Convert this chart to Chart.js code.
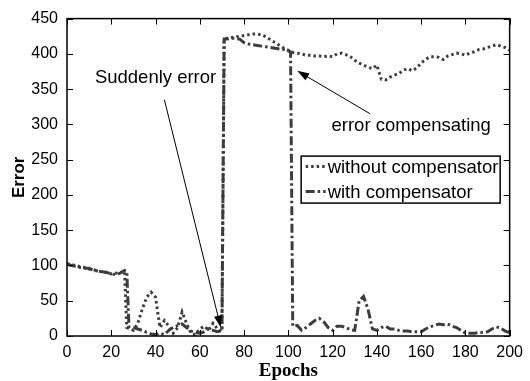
<!DOCTYPE html>
<html>
<head>
<meta charset="utf-8">
<script src="https://cdn.jsdelivr.net/npm/chart.js@4.4.0/dist/chart.umd.min.js"></script>
<style>
  body { margin: 0; background: #fff; }
</style>
</head>
<body>
<canvas id="errChart" width="530" height="381"></canvas>
<script>
// data
const epochs = [0, 2, 4, 6, 8, 10, 12, 14, 16, 18, 20, 22, 24, 26,
    27,
    28, 30, 32, 34, 36, 38, 40, 42, 44, 46, 48, 50, 52, 54, 56, 58, 60, 62, 64, 66, 68, 70,
    71,
    72, 74, 76, 78, 80, 82, 84, 86, 88, 90, 92, 94, 96, 98, 100,
    101,
    102, 104, 106, 108, 110, 112, 114, 116, 118, 120, 122, 124, 126, 128, 130, 132, 134, 136, 138, 140,
    142, 144, 146, 148, 150, 152, 154, 156, 158, 160, 162, 164, 166, 168, 170, 172, 174, 176, 178, 180,
    182, 184, 186, 188, 190, 192, 194, 196, 198, 200];

const withoutComp = [103, 101, 100, 98, 97, 95, 94, 92, 91, 90, 88, 89, 90, 92,
    12,
    11, 8, 18, 38, 55, 62, 55, 12, 22, 14, 4, 12, 34, 18, 4, 2, 10, 14, 8, 18, 10, 6,
    420,
    422, 423, 424, 425, 426, 427, 428, 428, 427, 424, 420, 416, 412, 408, 405,
    403,
    402, 401, 400, 398, 398, 397, 397, 396, 397, 396, 400, 401, 399, 396, 391, 387, 384, 381, 379, 384,
    364, 363, 367, 370, 372, 377, 379, 376, 380, 387, 392, 396, 396, 395, 392, 397, 399, 401, 400, 398,
    401, 403, 406, 407, 409, 411, 413, 411, 409, 405];

const withComp = [102, 100, 99, 97, 96, 96, 93, 92, 91, 90, 88, 87, 89, 93,
    92,
    13, 12, 10, 8, 5, 3, 2, 4, 2, 8, 12, 15, 17, 12, 7, 5, 4, 6, 10, 8, 6, 8,
    421,
    421, 422, 422, 421, 416, 414, 413, 412, 411, 410, 409, 408, 407, 406, 404,
    403,
    14, 15, 8, 12, 17, 22, 25, 20, 12, 8, 14, 14, 12, 9, 8, 50, 56, 38, 10, 8,
    12, 14, 10, 10, 8, 7, 7, 6, 6, 6, 10, 13, 15, 17, 16, 17, 14, 12, 8, 4,
    4, 4, 5, 5, 6, 10, 13, 11, 7, 5];

const seriesNames = ['without compensator', 'with compensator'];
const xTicks = { min: 0, max: 200, step: 20 };
const yTicks = { min: 0, max: 450, step: 50 };

const lineColor = '#3d3d3d';
const sans = "'Liberation Sans', Arial, sans-serif";

Chart.defaults.font.family = sans;
Chart.defaults.font.size = 16;
Chart.defaults.color = '#000';

function toPoints(ys) {
    return epochs.map((e, i) => ({ x: e, y: ys[i] }));
}

// box, inward ticks on all four sides
const framePlugin = {
    id: 'frame',
    afterDraw(chart) {
        const ctx = chart.ctx;
        const a = chart.chartArea;
        const xs = chart.scales.x, ys = chart.scales.y;
        const tl = 6;
        ctx.save();
        ctx.strokeStyle = '#000';
        ctx.lineWidth = 1;
        ctx.beginPath();
        xs.ticks.forEach(t => {
            const px = Math.round(xs.getPixelForValue(t.value)) + 0.5;
            ctx.moveTo(px, a.bottom); ctx.lineTo(px, a.bottom - tl);
            ctx.moveTo(px, a.top); ctx.lineTo(px, a.top + tl);
        });
        ys.ticks.forEach(t => {
            const py = Math.round(ys.getPixelForValue(t.value)) + 0.5;
            ctx.moveTo(a.left, py); ctx.lineTo(a.left + tl, py);
            ctx.moveTo(a.right, py); ctx.lineTo(a.right - tl, py);
        });
        ctx.stroke();
        ctx.lineWidth = 1.5;
        ctx.strokeRect(a.left, a.top, a.right - a.left, a.bottom - a.top);
        ctx.restore();
    }
};

function arrow(ctx, x1, y1, x2, y2) {
    const ang = Math.atan2(y2 - y1, x2 - x1);
    const len = 12, half = 4;
    ctx.beginPath();
    ctx.moveTo(x1, y1);
    ctx.lineTo(x2 - Math.cos(ang) * len * 0.8, y2 - Math.sin(ang) * len * 0.8);
    ctx.stroke();
    ctx.beginPath();
    ctx.moveTo(x2, y2);
    ctx.lineTo(x2 - Math.cos(ang) * len - Math.sin(ang) * half, y2 - Math.sin(ang) * len + Math.cos(ang) * half);
    ctx.lineTo(x2 - Math.cos(ang) * len + Math.sin(ang) * half, y2 - Math.sin(ang) * len - Math.cos(ang) * half);
    ctx.closePath();
    ctx.fill();
}

// text notes + arrows, placed in data coordinates
const notesPlugin = {
    id: 'notes',
    afterDatasetsDraw(chart) {
        const ctx = chart.ctx;
        const xs = chart.scales.x, ys = chart.scales.y;
        const X = v => xs.getPixelForValue(v), Y = v => ys.getPixelForValue(v);
        ctx.save();
        ctx.fillStyle = '#000';
        ctx.strokeStyle = '#000';
        ctx.lineWidth = 1;
        ctx.font = '18.5px ' + sans;
        ctx.textBaseline = 'alphabetic';
        ctx.textAlign = 'left';
        ctx.fillText('Suddenly error', X(12.6), Y(359));
        ctx.fillText('error compensating', X(119.5), Y(290.5));
        arrow(ctx, X(44), Y(335), X(69.5), Y(12));
        arrow(ctx, X(137), Y(315), X(104), Y(376));
        ctx.restore();
    }
};

// boxed legend like the original figure
const boxLegendPlugin = {
    id: 'boxLegend',
    afterDraw(chart) {
        const ctx = chart.ctx;
        const a = chart.chartArea;
        const left = a.right - 209, top = a.top + 137, w = 199, h = 47;
        ctx.save();
        ctx.fillStyle = '#fff';
        ctx.fillRect(left, top, w, h);
        chart.data.datasets.forEach((ds, i) => {
            const cy = top + 11 + i * 25;
            ctx.strokeStyle = ds.borderColor;
            ctx.lineWidth = ds.borderWidth;
            ctx.setLineDash(ds.borderDash);
            ctx.beginPath();
            ctx.moveTo(left + 5, cy);
            ctx.lineTo(left + 25, cy);
            ctx.stroke();
            ctx.setLineDash([]);
            ctx.fillStyle = '#000';
            ctx.font = '18.5px ' + sans;
            ctx.textBaseline = 'middle';
            ctx.fillText(ds.label, left + 27, cy + 1);
        });
        ctx.strokeStyle = '#000';
        ctx.lineWidth = 1.5;
        ctx.strokeRect(left + 0.5, top + 0.5, w, h);
        ctx.restore();
    }
};

const data = {
    datasets: [{
        label: seriesNames[0],
        data: toPoints(withoutComp),
        borderColor: lineColor,
        borderWidth: 3,
        borderDash: [2.5, 3],
        pointRadius: 0,
        tension: 0,
        fill: false
    }, {
        label: seriesNames[1],
        data: toPoints(withComp),
        borderColor: lineColor,
        borderWidth: 3,
        borderDash: [9, 3, 2.5, 3],
        pointRadius: 0,
        tension: 0,
        fill: false
    }]
};

const options = {
    responsive: false,
    animation: false,
    layout: { padding: { top: 18, right: 18, left: 0, bottom: 0 } },
    plugins: {
        legend: { display: false },
        tooltip: { enabled: false }
    },
    scales: {
        x: {
            type: 'linear',
            min: xTicks.min,
            max: xTicks.max,
            grid: { display: false, drawTicks: false },
            border: { display: false },
            ticks: { stepSize: xTicks.step, padding: 7, maxRotation: 0 },
            title: {
                display: true,
                text: 'Epochs',
                font: { family: "'Liberation Serif', 'Times New Roman', serif", size: 19, weight: 'bold' },
                padding: { top: 0, bottom: -1 }
            },
            afterFit(scale) { scale.height = 45; }
        },
        y: {
            min: yTicks.min,
            max: yTicks.max,
            grid: { display: false, drawTicks: false },
            border: { display: false },
            ticks: { stepSize: yTicks.step, padding: 9 },
            title: {
                display: true,
                text: 'Error',
                font: { family: sans, size: 17, weight: 'bold' },
                padding: { top: 9, bottom: 0 }
            },
            afterFit(scale) { scale.width = 67; }
        }
    }
};

const config = {
    type: 'line',
    data: data,
    options,
    plugins: [framePlugin, notesPlugin, boxLegendPlugin]
};

const errChart = new Chart(document.getElementById('errChart'), config);
</script>
</body>
</html>
